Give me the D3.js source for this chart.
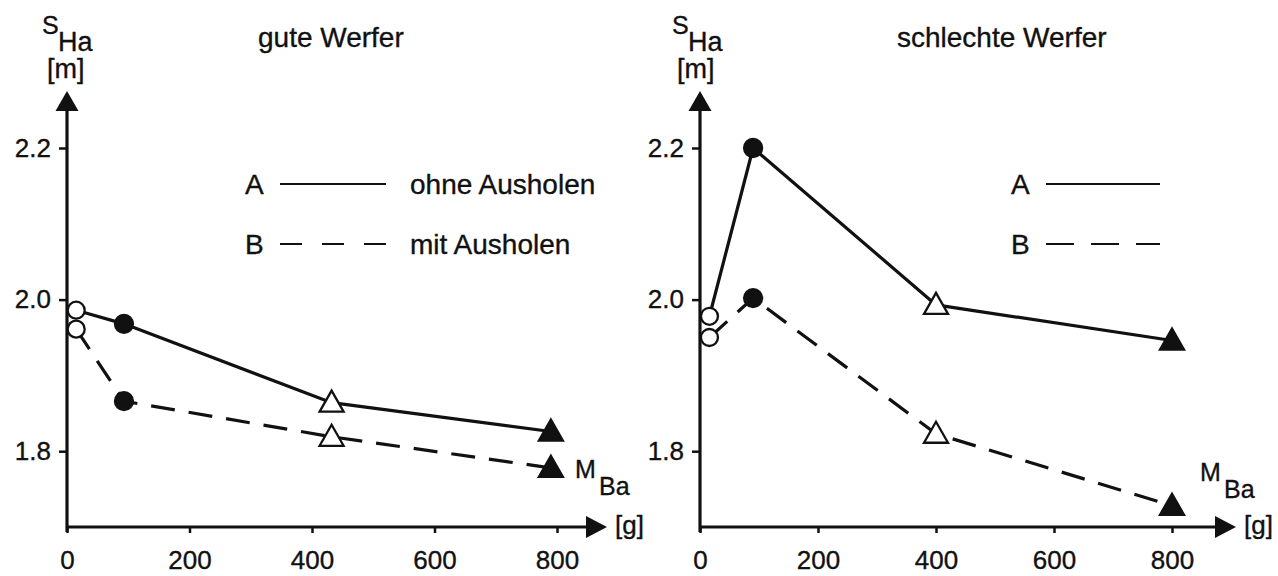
<!DOCTYPE html>
<html><head><meta charset="utf-8">
<script src="https://cdn.jsdelivr.net/npm/d3@7"></script>
<style>
html,body{margin:0;padding:0;background:#fff;}
svg text{font-family:"Liberation Sans",Arial,Helvetica,sans-serif;fill:#111;stroke:#111;stroke-width:0.35px;}
</style></head>
<body><svg id="c" width="1278" height="576"></svg>
<script>
// ---------- data ----------
const xTicks = [0, 200, 400, 600, 800];
const yTicks = [1.8, 2.0, 2.2];
const markerTypes = ["openCircle", "filledCircle", "openTriangle", "filledTriangle"];

const leftTitle = "gute Werfer";
const leftMass = [15, 93, 432, 790];
const leftA = [1.986, 1.968, 1.864, 1.826];
const leftB = [1.961, 1.866, 1.819, 1.778];

const rightTitle = "schlechte Werfer";
const rightMass = [16, 90, 400, 800];
const rightA = [1.978, 2.200, 1.993, 1.946];
const rightB = [1.950, 2.002, 1.823, 1.728];

const legendKeys = ["A", "B"];
const legendTexts = ["ohne Ausholen", "mit Ausholen"];

// ---------- drawing ----------
const svg = d3.select("#c");
const ink = "#111";

function panel(cfg) {
  const g = svg.append("g");
  const x = d3.scaleLinear().domain([0, 800]).range([cfg.x0, cfg.x800]);
  const y = d3.scaleLinear().domain([1.7, 2.2]).range([527, 148]);

  // axes (ticks + labels)
  const ya = g.append("g").attr("transform", `translate(${cfg.x0},0)`)
    .call(d3.axisLeft(y).tickValues(yTicks).tickSize(8).tickPadding(8).tickFormat(d3.format(".1f")));
  const xa = g.append("g").attr("transform", `translate(0,${y(1.7)})`)
    .call(d3.axisBottom(x).tickValues(xTicks).tickSize(6).tickPadding(18).tickFormat(d3.format("d")));
  [ya, xa].forEach(a => {
    a.select(".domain").remove();
    a.selectAll(".tick line").attr("stroke", ink).attr("stroke-width", 2.5);
    a.selectAll(".tick text").attr("font-size", 26).attr("fill", ink)
      .style("font-family", '"Liberation Sans",Arial,sans-serif');
  });

  // axis lines with arrowheads
  const ax0 = x(0), ay0 = y(1.7);
  const yTop = 91, xEnd = cfg.xArrow;
  g.append("line").attr("x1", ax0).attr("x2", ax0).attr("y1", ay0 + 5).attr("y2", yTop + 10)
    .attr("stroke", ink).attr("stroke-width", 3.2);
  g.append("line").attr("x1", ax0 - 1).attr("x2", xEnd - 10).attr("y1", ay0).attr("y2", ay0)
    .attr("stroke", ink).attr("stroke-width", 3.2);
  g.append("path").attr("d", `M${ax0},${yTop} L${ax0 + 11.5},${yTop + 20} L${ax0 - 11.5},${yTop + 20} Z`).attr("fill", ink);
  g.append("path").attr("d", `M${xEnd},${ay0} L${xEnd - 21},${ay0 - 11} L${xEnd - 21},${ay0 + 11} Z`).attr("fill", ink);

  // axis labels
  const yl = g.append("g").attr("font-size", 27);
  yl.append("text").attr("x", cfg.sx).attr("y", 34).attr("font-size", 25).text("S");
  yl.append("text").attr("x", cfg.sx + 16).attr("y", 51).text("Ha");
  yl.append("text").attr("x", cfg.sx + 5).attr("y", 78).text("[m]");
  const ml = g.append("g").attr("font-size", 25);
  ml.append("text").attr("x", cfg.mx).attr("y", cfg.my).text("M");
  ml.append("text").attr("x", cfg.mx + 24).attr("y", cfg.my + 17).text("Ba");
  g.append("text").attr("x", xEnd + 8).attr("y", 534).attr("font-size", 26).text("[g]");

  // title
  g.append("text").attr("x", cfg.tx).attr("y", 47).attr("font-size", 28).text(cfg.title);

  // legend
  const lg = g.append("g").attr("font-size", 28);
  legendKeys.forEach((k, i) => {
    const ly = 184 + i * 60;
    lg.append("text").attr("x", cfg.lx).attr("y", ly).attr("dy", "0.35em").text(k);
    lg.append("line").attr("x1", cfg.lx + 35).attr("x2", cfg.lx + cfg.llen).attr("y1", ly).attr("y2", ly)
      .attr("stroke", ink).attr("stroke-width", 2.2)
      .attr("stroke-dasharray", i === 0 ? null : cfg.legDash);
    if (cfg.showText)
      lg.append("text").attr("x", cfg.lx + cfg.llen + 24).attr("y", ly).attr("dy", "0.35em").text(legendTexts[i]);
  });

  // series
  const line = d3.line().x(d => x(d[0])).y(d => y(d[1]));
  const series = [
    {vals: cfg.A, dash: null},
    {vals: cfg.B, dash: "24,14"}
  ];
  series.forEach(s => {
    const pts = cfg.mass.map((m, i) => [m, s.vals[i]]);
    g.append("path").attr("d", line(pts)).attr("fill", "none").attr("stroke", ink)
      .attr("stroke-width", 3.2).attr("stroke-dasharray", s.dash);
  });
  series.forEach(s => {
    cfg.mass.forEach((m, i) => {
      const px = x(m), py = y(s.vals[i]);
      const t = markerTypes[i];
      if (t.endsWith("Circle")) {
        g.append("circle").attr("cx", px).attr("cy", py).attr("r", t === "openCircle" ? 8.5 : 9)
          .attr("fill", t === "openCircle" ? "#fff" : ink).attr("stroke", ink).attr("stroke-width", 2.3);
      } else {
        g.append("path").attr("transform", `translate(${px},${py})`)
          .attr("d", "M0,-12 L12,9 L-12,9 Z")
          .attr("fill", t === "openTriangle" ? "#fff" : ink).attr("stroke", ink).attr("stroke-width", 2.3)
          .attr("stroke-linejoin", "miter");
      }
    });
  });
}

panel({x0: 67, x800: 557, xArrow: 607, title: leftTitle, tx: 258, sx: 42, mx: 575, my: 478,
  lx: 245, llen: 141, legDash: "22,20", showText: true,
  mass: leftMass, A: leftA, B: leftB});
panel({x0: 700, x800: 1172, xArrow: 1236, title: rightTitle, tx: 897, sx: 672, mx: 1200, my: 481,
  lx: 1011, llen: 149, legDash: "28,17", showText: false,
  mass: rightMass, A: rightA, B: rightB});
</script></body></html>
